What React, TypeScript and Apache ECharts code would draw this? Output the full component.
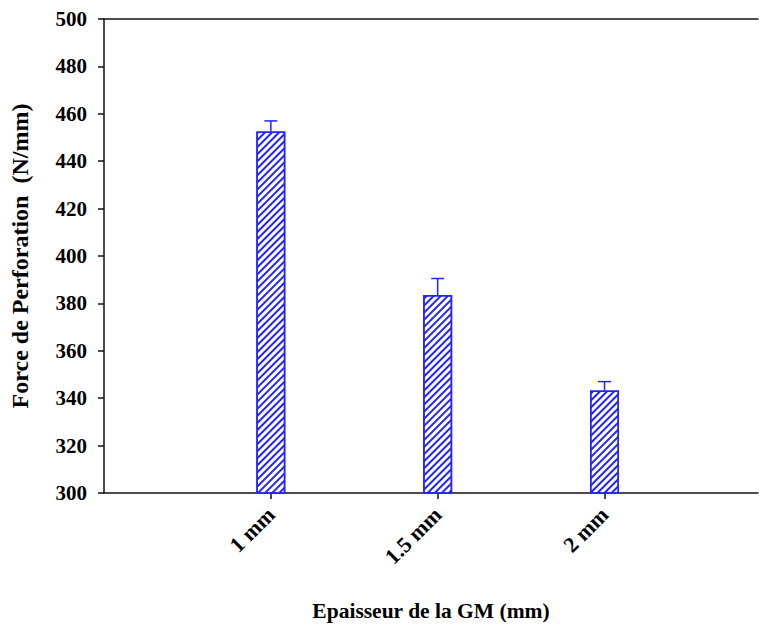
import React, { useEffect, useRef } from "react";
import * as echarts from "echarts";

// Membrane thickness (mm) and measured perforation force (N/mm)
const thickness = [1, 1.5, 2];
const force = [452.5, 383.5, 343.3];
const forceError = [4.5, 7, 3.7];
const yTicks = { min: 300, max: 500, step: 20 };

const BLUE = "#2323ff";
const FONT = "'Liberation Serif', 'Times New Roman', serif";

export default function App() {
  const ref = useRef<HTMLDivElement>(null);

  useEffect(() => {
    if (!ref.current) return;
    const chart = echarts.init(ref.current, null, { renderer: "svg" });

    const barData = thickness.map((t, i) => [t, force[i]]);
    const errData = thickness.map((t, i) => [t, force[i], force[i] + forceError[i]]);

    chart.setOption({
      animation: false,
      backgroundColor: "#fff",
      grid: { left: 102, right: 1, top: 19, bottom: 129, containLabel: false },
      xAxis: [
        {
          type: "value",
          min: 0.5,
          max: 2.46,
          name: "Epaisseur de la GM (mm)",
          nameLocation: "middle",
          nameGap: 107,
          nameTextStyle: { fontFamily: FONT, fontWeight: "bold", fontSize: 21.5, color: "#000" },
          axisLine: { show: true, lineStyle: { color: "#111", width: 1.5 } },
          axisTick: { show: true, customValues: thickness, length: 6, inside: false, lineStyle: { color: "#111", width: 1.5 } },
          axisLabel: {
            customValues: thickness,
            rotate: 45,
            margin: 18,
            fontFamily: FONT,
            fontWeight: "bold",
            fontSize: 22,
            color: "#000",
            formatter: (v: number) => `${v} mm`,
          },
          splitLine: { show: false },
        },
        {
          type: "value",
          position: "top",
          min: 0.5,
          max: 2.46,
          axisLine: { show: true, lineStyle: { color: "#111", width: 1.5 } },
          axisTick: { show: false },
          axisLabel: { show: false },
          splitLine: { show: false },
        },
      ],
      yAxis: {
        type: "value",
        min: yTicks.min,
        max: yTicks.max,
        interval: yTicks.step,
        name: "Force de Perforation  (N/mm)",
        nameLocation: "middle",
        nameGap: 72,
        nameRotate: 90,
        nameTextStyle: { fontFamily: FONT, fontWeight: "bold", fontSize: 24, color: "#000" },
        axisLine: { show: true, lineStyle: { color: "#111", width: 1.5 } },
        axisTick: { show: true, length: 6, inside: false, lineStyle: { color: "#111", width: 1.5 } },
        axisLabel: { margin: 17, fontFamily: FONT, fontWeight: "bold", fontSize: 21, color: "#000" },
        splitLine: { show: false },
      },
      series: [
        {
          type: "bar",
          data: barData,
          barWidth: 29,
          itemStyle: {
            color: "#fff",
            borderColor: BLUE,
            borderWidth: 1.5,
            decal: {
              symbol: "rect",
              symbolSize: 1,
              color: BLUE,
              backgroundColor: "#fff",
              dashArrayX: [1, 0],
              dashArrayY: [1.4, 3.0],
              rotation: -Math.PI / 4,
            },
          },
        },
        {
          type: "custom",
          data: errData,
          z: 1,
          renderItem: (params: any, api: any) => {
            const x = api.value(0);
            const base = api.coord([x, api.value(1)]);
            const top = api.coord([x, api.value(2)]);
            const half = 6.5;
            const style = { stroke: BLUE, lineWidth: 1.5 };
            return {
              type: "group",
              children: [
                { type: "line", shape: { x1: base[0], y1: base[1], x2: top[0], y2: top[1] }, style },
                { type: "line", shape: { x1: top[0] - half, y1: top[1], x2: top[0] + half, y2: top[1] }, style },
              ],
            };
          },
        },
      ],
    });

    return () => chart.dispose();
  }, []);

  return (
    <div
      ref={ref}
      style={{ position: "absolute", left: 0, top: 0, width: 759, height: 627 }}
    />
  );
}
